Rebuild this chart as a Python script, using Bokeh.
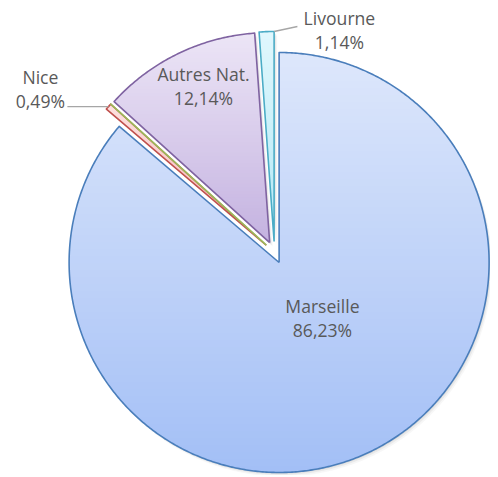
import math
from bokeh.plotting import figure
from bokeh.models import Range1d
from bokeh.embed import file_html
from bokeh.resources import INLINE
from bokeh.core.properties import value

# ---- data (clockwise from 12 o'clock) ----
categories = ["Marseille", "Nice", "", "Autres Nat.", "Livourne"]
shares = [86.23, 0.49, 0.0, 12.14, 1.14]

# ---- styles ----
edge_colors = ["#4a7ebb", "#c0504d", "#9bbb59", "#7f63a1", "#4bacc6"]
top_colors = ["#dde7fb", "#fde0df", "#e6f0d6", "#ece5f6", "#e0f7fd"]
bottom_colors = ["#a3bff6", "#f3b4b2", "#cfe0b0", "#c4b2e0", "#b3e8f5"]
show_label = [True, True, False, True, True]
label_angle = [-53.6, 145.0, 0, 113.1, 73.7]      # polar position of label (deg)
label_radius = [80.8, 285.8, 0, 181.0, 231.3]     # px from pie centre
leader = [None, (0.5, 27, 18), None, None, (1.0, -42, -4)]  # (slice fraction, dx, dy-down) to label
TEXT_COLOR = "#595959"
FONT = "Open Sans"
FONT_SIZE = "17.6px"

CX, CY = 274.0, 225.0   # pie centre (data units = px)
R = 210.0
EXPLODE = 11.0

W, H = 490, 475
p = figure(width=W, height=H, output_backend="svg", toolbar_location=None,
           x_range=Range1d(0, W), y_range=Range1d(477 - H, 477),
           x_axis_location=None, y_axis_location=None, min_border=0,
           background_fill_color="white", border_fill_color="white")
p.outline_line_color = None
p.xgrid.visible = False
p.ygrid.visible = False


def hex2rgb(h):
    h = h.lstrip("#")
    return tuple(int(h[i:i + 2], 16) for i in (0, 2, 4))


def mix(c1, c2, t):
    a, b = hex2rgb(c1), hex2rgb(c2)
    return "#%02x%02x%02x" % tuple(int(round(a[i] + (b[i] - a[i]) * t)) for i in range(3))


def clip(poly, y0, keep_above):
    out = []
    n = len(poly)
    for i in range(n):
        cur, prev = poly[i], poly[i - 1]
        cin = cur[1] >= y0 if keep_above else cur[1] <= y0
        pin = prev[1] >= y0 if keep_above else prev[1] <= y0
        if cin != pin:
            dy = cur[1] - prev[1]
            t = (y0 - prev[1]) / dy if dy != 0 else 0
            out.append((prev[0] + t * (cur[0] - prev[0]), y0))
        if cin:
            out.append(cur)
    return out


total = sum(shares)
cw = 0.0
slices = []
for i, v in enumerate(shares):
    span = v / total * 360.0
    a0 = 90.0 - (cw + span)   # math angle start
    a1 = 90.0 - cw
    mid = math.radians((a0 + a1) / 2)
    ax = CX + EXPLODE * math.cos(mid)
    ay = CY + EXPLODE * math.sin(mid)
    n = max(2, int(math.ceil(span / 0.5)) + 1)
    pts = [(ax, ay)]
    for k in range(n):
        t = math.radians(a0 + (a1 - a0) * k / (n - 1))
        pts.append((ax + R * math.cos(t), ay + R * math.sin(t)))
    slices.append(dict(pts=pts, a0=a0, a1=a1, ax=ax, ay=ay, cw0=cw, cw1=cw + span))
    cw += span

# shadows
for off, alpha in [((3.0, -4.0), 0.06), ((2.0, -2.5), 0.10), ((1.0, -1.2), 0.12)]:
    xs = [[q[0] + off[0] for q in s["pts"]] for s in slices]
    ys = [[q[1] + off[1] for q in s["pts"]] for s in slices]
    p.patches(xs, ys, fill_color="#7f7f7f", fill_alpha=alpha, line_color=None)

# gradient fills
NB = 60
for i, s in enumerate(slices):
    pts = s["pts"]
    ymin = min(q[1] for q in pts)
    ymax = max(q[1] for q in pts)
    if ymax - ymin < 1e-6 or shares[i] == 0:
        continue
    bx, by, bc = [], [], []
    h = (ymax - ymin) / NB
    for b in range(NB):
        y0 = ymin + b * h - 0.6
        y1 = ymin + (b + 1) * h + 0.6
        poly = clip(clip(pts, y0, True), y1, False)
        if len(poly) < 3:
            continue
        tcol = 1 - (b + 0.5) / NB   # 0 at top -> top colour
        bx.append([q[0] for q in poly])
        by.append([q[1] for q in poly])
        bc.append(mix(top_colors[i], bottom_colors[i], tcol))
    p.patches(bx, by, fill_color=bc, line_color=None)

# outlines
for i, s in enumerate(slices):
    xs = [q[0] for q in s["pts"]] + [s["pts"][0][0]]
    ys = [q[1] for q in s["pts"]] + [s["pts"][0][1]]
    p.line(xs, ys, line_color=edge_colors[i], line_width=1.6, line_join="round")

# labels
nx, ny, px_, py_ = [], [], [], []
names, pcts = [], []
for i, s in enumerate(slices):
    if not show_label[i]:
        continue
    a = math.radians(label_angle[i])
    lx = CX + label_radius[i] * math.cos(a)
    ly = CY + label_radius[i] * math.sin(a)
    nx.append(lx); ny.append(ly + 12)
    px_.append(lx); py_.append(ly - 12)
    names.append(categories[i])
    pcts.append(("%.2f" % shares[i]).replace(".", ",") + "%")
    if leader[i] is not None:
        frac, dx, dy = leader[i]
        ang = math.radians(s["a1"] - (s["a1"] - s["a0"]) * frac)
        sx = s["ax"] + R * math.cos(ang)
        sy = s["ay"] + R * math.sin(ang)
        p.line([sx, lx + dx], [sy, ly - dy], line_color="#a6a6a6", line_width=1.3)

p.text(nx, ny, text=names, text_align="center", text_baseline="middle",
       text_font=value(FONT), text_font_size=FONT_SIZE, text_color=TEXT_COLOR)
p.text(px_, py_, text=pcts, text_align="center", text_baseline="middle",
       text_font=value(FONT), text_font_size=FONT_SIZE, text_color=TEXT_COLOR)

open("out.html", "w").write(file_html(p, INLINE))
